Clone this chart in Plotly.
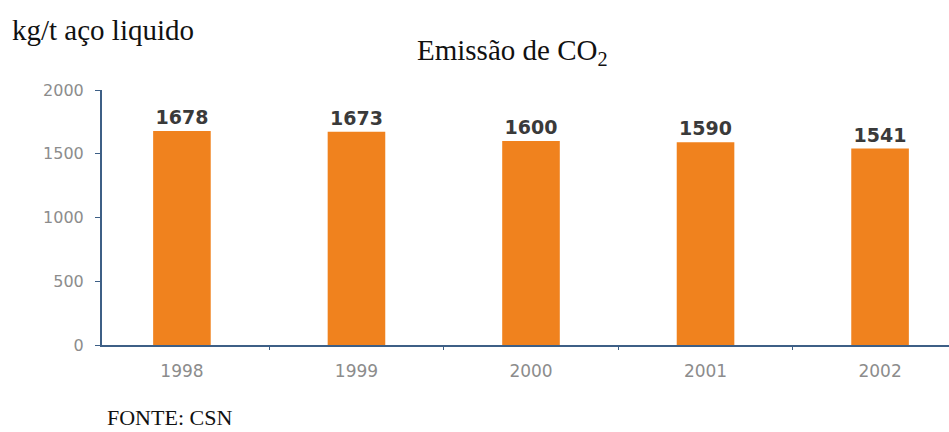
import plotly.graph_objects as go

# CO2 emissions per tonne of liquid steel
years = ["1998", "1999", "2000", "2001", "2002"]
emissions = [1678, 1673, 1600, 1590, 1541]
y_ticks = [0, 500, 1000, 1500, 2000]

bar_color = "#F0821E"
axis_color = "#3D5F86"
tick_color = "#8C8C8C"

W, H = 949, 432
L, R, T, B = 102, 0, 90, 87
PW, PH = W - L - R, H - T - B


def paper_xy(px, py):
    """Pixel position on the page -> paper coordinates of the plot area."""
    return (px - L) / PW, (H - B - py) / PH


def label(text, px, py, size, anchor="left"):
    x, y = paper_xy(px, py)
    return dict(
        text=text, x=x, y=y, xref="paper", yref="paper",
        xanchor=anchor, yanchor="middle", showarrow=False,
        font=dict(family="Liberation Serif", size=size, color="#111111"),
    )


fig = go.Figure(
    go.Bar(
        x=years,
        y=emissions,
        width=0.33,
        marker=dict(color=bar_color, line=dict(width=0)),
        text=[str(v) for v in emissions],
        textposition="outside",
        cliponaxis=False,
        textfont=dict(family="DejaVu Sans", size=19, color="#3A3A3A", weight="bold"),
    )
)

fig.update_layout(
    width=W,
    height=H,
    margin=dict(l=L, r=R, t=T, b=B),
    paper_bgcolor="white",
    plot_bgcolor="white",
    showlegend=False,
    xaxis=dict(
        type="category",
        range=[-0.458, 4.395],
        showline=True,
        linecolor=axis_color,
        linewidth=2,
        ticks="outside",
        tickson="boundaries",
        ticklen=3,
        tickcolor=axis_color,
        ticklabelstandoff=10,
        tickfont=dict(family="DejaVu Sans", size=17, color=tick_color),
        showgrid=False,
    ),
    yaxis=dict(
        range=[0, 2000],
        tickvals=y_ticks,
        showline=True,
        linecolor=axis_color,
        linewidth=2,
        ticks="outside",
        ticklen=5,
        tickcolor=axis_color,
        ticklabelstandoff=8,
        tickfont=dict(family="DejaVu Sans", size=16, color=tick_color),
        showgrid=False,
        zeroline=False,
    ),
    annotations=[
        label("kg/t aço liquido", 10, 30, 29),
        label("Emissão de CO<sub>2</sub>", 512, 52, 29, anchor="center"),
        label("FONTE: CSN", 105, 418, 22),
    ],
)

fig.write_html("out.html")
